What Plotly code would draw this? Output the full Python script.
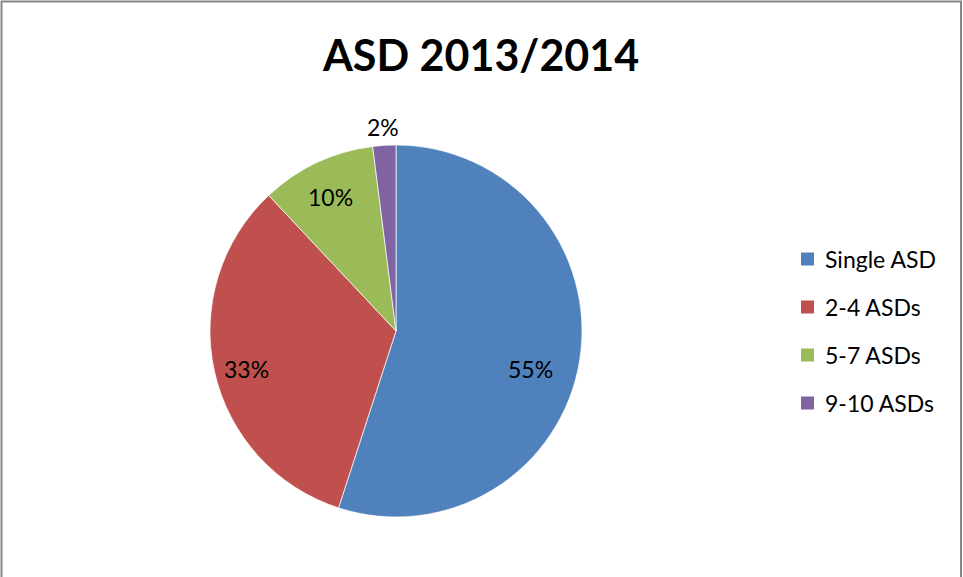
import math
import plotly.graph_objects as go

# Share of schools by number of ASD classes, 2013/2014
labels = ["Single ASD", "2-4 ASDs", "5-7 ASDs", "9-10 ASDs"]
values = [55, 33, 10, 2]
colors = ["#4F81BD", "#C0504D", "#9BBB59", "#8064A2"]
title_text = "ASD 2013/2014"

W, H = 963, 577
CX, CY, R = 396, 331, 186          # pie centre and radius in pixels
FONT = "Lato, 'Open Sans', sans-serif"

# label placement: (radius factor, angular nudge in degrees)
label_place = [(0.75, 7.0), (0.83, -1.5), (0.80, -1.0), (1.10, 0.0)]

fig = go.Figure()
fig.add_trace(go.Pie(
    labels=labels,
    values=values,
    sort=False,
    direction="clockwise",
    rotation=0,
    marker=dict(colors=colors, line=dict(color="rgba(255,255,255,0.7)", width=1)),
    textinfo="none",
    hoverinfo="label+percent",
    showlegend=False,
    domain=dict(x=[(CX - R) / W, (CX + R) / W],
                y=[1 - (CY + R) / H, 1 - (CY - R) / H]),
))

# percentage labels placed at each slice's mid-angle
total = sum(values)
annotations = []
cum = 0.0
for v, (rf, nudge) in zip(values, label_place):
    mid = (cum + v / 2) / total * 360 + nudge
    cum += v
    a = math.radians(mid)
    px = CX + math.sin(a) * R * rf
    py = CY - math.cos(a) * R * rf
    annotations.append(dict(
        x=px / W, y=1 - py / H, xref="paper", yref="paper",
        text=f"{round(v / total * 100)}%", showarrow=False,
        font=dict(family=FONT, size=23, color="#000000"),
        xanchor="center", yanchor="middle",
    ))

# legend drawn as coloured squares with text
LEG_X, LEG_Y0, LEG_DY, SQ = 801, 259, 48, 13
shapes = []
for i, (lab, col) in enumerate(zip(labels, colors)):
    yc = LEG_Y0 + i * LEG_DY
    shapes.append(dict(
        type="rect", xref="paper", yref="paper",
        x0=LEG_X / W, x1=(LEG_X + SQ) / W,
        y0=1 - (yc + SQ / 2) / H, y1=1 - (yc - SQ / 2) / H,
        fillcolor=col, line=dict(width=0),
    ))
    annotations.append(dict(
        x=(LEG_X + SQ + 9) / W, y=1 - yc / H, xref="paper", yref="paper",
        text=lab, showarrow=False, xanchor="left", yanchor="middle",
        font=dict(family=FONT, size=23, color="#000000"),
    ))

# chart frame
shapes.append(dict(
    type="rect", xref="paper", yref="paper",
    x0=1.5 / W, x1=961 / W, y0=-0.05, y1=1 - 1.5 / H,
    line=dict(color="#868686", width=2), fillcolor="rgba(0,0,0,0)",
))

annotations.append(dict(
    x=480.5 / W, y=1 - 55 / H, xref="paper", yref="paper",
    text=f"<b>{title_text}</b>", showarrow=False,
    xanchor="center", yanchor="middle",
    font=dict(family=FONT, size=43, color="#000000"),
))

fig.update_layout(
    width=W, height=H,
    margin=dict(l=0, r=0, t=0, b=0),
    paper_bgcolor="white",
    plot_bgcolor="white",
    shapes=shapes,
    annotations=annotations,
)

fig.write_html("out.html")
